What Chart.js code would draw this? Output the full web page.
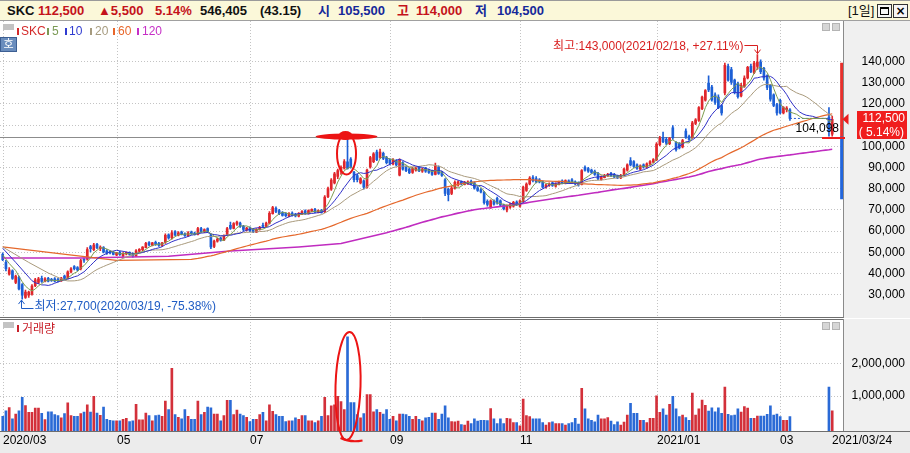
<!DOCTYPE html>
<html lang="ko"><head><meta charset="utf-8">
<script src="https://cdn.jsdelivr.net/npm/chart.js@4.4.1/dist/chart.umd.min.js"></script>
<style>
*{box-sizing:border-box}
html,body{margin:0;padding:0}
body{width:910px;height:453px;position:relative;overflow:hidden;background:#fff;font-family:"Liberation Sans","Noto Sans CJK KR",sans-serif;}
#hdr{position:absolute;left:0;top:0;width:910px;height:21px;background:#fbf8d9;border-top:1px solid #9a9a9a;border-bottom:1px solid #a0a0a0;}
#hdr span{position:absolute;top:1px;font-size:13px;line-height:17px;font-weight:bold;white-space:nowrap}
.r{color:#c4121b}.b{color:#15289a}.k{color:#111}
#pc{position:absolute;left:0;top:21px}
#vc{position:absolute;left:0;top:319px}
.leg{position:absolute;font-size:12px;line-height:14px;white-space:nowrap}
.mk{position:absolute;width:2px;height:7px}
.tab{position:absolute;width:11px;height:6px;background:#c3c3c3}
.ico{position:absolute;width:8px;height:8px;background:#d6d6d6;border:1px solid #b4b4b4}
</style></head>
<body>
<div id="hdr">
<span class="k" style="left:7px">SKC</span>
<span class="r" style="left:38px">112,500</span>
<span class="r" style="left:98px">▲5,500</span>
<span class="r" style="left:155px">5.14%</span>
<span class="k" style="left:200px">546,405</span>
<span class="k" style="left:260px">(43.15)</span>
<span class="b" style="left:318px">시</span>
<span class="b" style="left:338px">105,500</span>
<span class="r" style="left:397px">고</span>
<span class="r" style="left:416px">114,000</span>
<span class="b" style="left:475px">저</span>
<span class="b" style="left:497px">104,500</span>
<span class="k" style="left:848px;font-weight:normal">[1일]</span>
</div>
<div style="position:absolute;left:877px;top:4px;width:15px;height:14px;border:1px solid #333;background:#f6f6f6"><div style="position:absolute;left:2px;top:2px;width:9px;height:8px;border:1px solid #000;border-top-width:2px"></div></div>
<div style="position:absolute;left:893px;top:4px;width:15px;height:14px;border:1px solid #333;background:#f6f6f6;font:bold 12px/12px 'DejaVu Sans';text-align:center;color:#000">×</div>

<canvas id="pc" width="910" height="297"></canvas>
<canvas id="vc" width="910" height="134"></canvas>

<div class="tab" style="left:3px;top:24px"></div>
<div class="mk" style="left:17px;top:28px;background:#d42a2a"></div><div class="leg" style="left:21px;top:24px;color:#d42a2a">SKC</div>
<div class="mk" style="left:47px;top:28px;background:#7b9a55"></div><div class="leg" style="left:52px;top:24px;color:#7b9a55">5</div>
<div class="mk" style="left:65px;top:28px;background:#2f3bd0"></div><div class="leg" style="left:69px;top:24px;color:#2f3bd0">10</div>
<div class="mk" style="left:90px;top:28px;background:#a69b7f"></div><div class="leg" style="left:95px;top:24px;color:#a69b7f">20</div>
<div class="mk" style="left:113px;top:28px;background:#e8662a"></div><div class="leg" style="left:118px;top:24px;color:#e8662a">60</div>
<div class="mk" style="left:137px;top:28px;background:#c62fc6"></div><div class="leg" style="left:142px;top:24px;color:#c62fc6">120</div>
<div style="position:absolute;left:0;top:37px;width:17px;height:15px;background:#6a8dbd;border:1px solid #3d5f93;color:#fff;font-size:11px;line-height:13px;text-align:center">호</div>
<div class="ico" style="left:822px;top:23px"></div><div class="ico" style="left:832px;top:23px"></div>

<div class="tab" style="left:3px;top:322px"></div>
<div class="mk" style="left:17px;top:325px;background:#c8202a"></div><div class="leg" style="left:22px;top:322px;color:#c8202a">거래량</div>
<div class="ico" style="left:822px;top:322px"></div><div class="ico" style="left:832px;top:322px"></div>

<script>
// ---------------- DATA ----------------
const tradingDays = [
 ["2020/03","11 12 13 16 17 18 19 20 23 24 25 26 27 30 31"],
 ["2020/04","01 02 03 06 07 08 09 10 13 14 16 17 20 21 22 23 24 27 28 29"],
 ["2020/05","04 06 07 08 11 12 13 14 15 18 19 20 21 22 25 26 27 28 29"],
 ["2020/06","01 02 03 04 05 08 09 10 11 12 15 16 17 18 19 22 23 24 25 26 29 30"],
 ["2020/07","01 02 03 06 07 08 09 10 13 14 15 16 17 20 21 22 23 24 27 28 29 30 31"],
 ["2020/08","03 04 05 06 07 10 11 12 13 14 18 19 20 21 24 25 26 27 28 31"],
 ["2020/09","01 02 03 04 07 08 09 10 11 14 15 16 17 18 21 22 23 24 25 28 29"],
 ["2020/10","05 06 07 08 12 13 14 15 16 19 20 21 22 23 26 27 28 29 30"],
 ["2020/11","02 03 04 05 06 09 10 11 12 13 16 17 18 19 20 23 24 25 26 27 30"],
 ["2020/12","01 02 03 04 07 08 09 10 11 14 15 16 17 18 21 22 23 24 28 29 30"],
 ["2021/01","04 05 06 07 08 11 12 13 14 15 18 19 20 21 22 25 26 27 28 29"],
 ["2021/02","01 02 03 04 05 08 09 10 15 16 17 18 19 22 23 24 25 26"],
 ["2021/03","02 03 04 05 08 09 10 11 12 15 16 17 18 19 22 23 24"]
];
const tickMonths = ["2020/03","2020/05","2020/07","2020/09","2020/11","2021/01","2021/03"];
const tickLabels = ["2020/03","05","07","09","11","2021/01","03"];
const lastLabel = "2021/03/24";

// prices in thousand won (null = no candle shown)
const opensK = [
48.8,45.0,39.5,41.0,35.5,38.0,34.5,28.5,29.5,30.0,
34.0,35.5,37.5,36.0,37.5,37.0,37.3,37.0,36.3,38.5,
37.5,40.5,43.0,42.5,42.0,46.5,46.5,52.5,51.0,53.5,
51.5,52.0,50.5,50.0,49.8,48.5,49.8,48.0,49.0,49.8,
49.0,48.0,50.3,51.0,52.0,54.3,53.0,54.5,54.0,53.0,
54.5,58.0,56.5,59.5,57.8,59.3,58.5,57.5,59.3,58.8,
58.2,61.0,59.5,61.0,58.0,52.5,55.0,56.5,55.5,58.0,
62.5,61.0,63.0,63.5,62.0,60.3,61.3,60.5,59.3,60.5,
62.3,62.0,63.5,68.0,70.5,69.5,68.5,68.0,66.8,68.3,
67.8,66.8,67.8,69.3,68.0,69.0,70.0,68.7,69.6,68.8,
76.0,79.5,82.5,85.5,88.0,89.5,92.4,93.7,87.5,86.0,
82.5,83.5,80.5,90.0,92.5,97.0,94.5,96.5,94.5,93.5,
91.5,93.0,86.2,92.0,90.0,89.0,87.5,88.5,89.8,88.0,
89.5,88.5,88.0,86.5,90.0,87.5,84.0,79.5,77.5,80.0,
81.5,83.0,81.8,82.0,83.2,82.5,80.2,79.2,78.0,73.8,
71.0,74.0,75.2,74.0,72.0,69.8,71.0,71.5,73.5,71.5,
73.8,79.0,82.0,85.0,84.5,84.0,83.0,80.5,81.3,82.5,
81.0,81.8,83.5,82.3,83.5,84.0,83.0,82.5,81.8,89.8,
89.3,88.5,88.0,87.0,84.0,85.0,85.8,87.0,86.5,85.8,
84.8,86.0,88.5,93.0,92.5,91.0,89.0,91.0,90.0,91.5,
92.3,93.5,100.5,104.0,103.0,101.0,108.5,101.5,101.0,99.5,
107.0,104.5,104.0,110.5,112.0,117.5,121.5,129.6,127.7,124.0,
123.0,119.0,125.0,137.5,136.0,131.0,129.5,123.5,128.0,132.0,
137.5,134.5,137.5,139.5,136.5,133.0,128.5,124.0,119.5,121.5,
115.5,117.0,117.0,
null,null,null,null,null,null,null,null,null,null,null,
113.5,105.5];
const highsK = [
49.5,46.0,42.5,41.5,39.0,38.5,35.0,32.0,31.5,34.5,
37.5,38.0,38.5,37.8,38.0,37.5,37.8,37.6,38.0,39.0,
41.0,42.5,43.5,43.0,46.5,47.0,52.0,53.0,54.0,54.0,
52.8,52.5,51.0,50.5,50.2,49.8,50.2,49.6,50.0,50.0,
49.5,51.0,51.5,52.5,54.5,54.8,54.5,55.0,54.5,54.5,
58.5,58.5,60.0,60.0,59.5,59.8,59.0,59.5,59.8,59.3,
61.5,61.5,60.8,61.3,58.5,55.5,56.5,57.0,58.0,61.5,
64.0,63.8,64.5,64.0,62.5,61.5,61.8,61.0,61.0,62.0,
63.5,64.0,69.0,71.5,71.2,70.0,69.0,68.5,68.5,68.8,
68.2,68.5,69.5,69.8,69.8,70.3,70.5,69.8,70.0,76.5,
80.5,84.5,87.5,89.0,90.5,93.5,104.5,94.5,88.0,86.5,
85.0,84.0,89.0,95.0,96.8,98.0,98.5,97.0,95.0,94.0,
94.0,93.5,93.8,92.5,90.5,89.5,89.8,90.0,90.2,89.5,
89.8,89.0,88.5,91.8,90.5,88.0,84.5,80.0,81.0,83.5,
83.5,83.5,83.2,83.5,83.8,83.0,80.8,79.8,78.5,74.5,
74.5,74.5,75.8,74.5,72.5,72.2,73.0,73.8,74.0,74.5,
81.0,82.5,85.5,86.0,85.5,84.5,83.5,82.0,82.5,83.0,
82.5,83.3,84.0,84.0,84.0,84.5,83.5,83.0,88.8,90.5,
89.8,89.0,88.5,87.5,85.8,86.5,87.0,87.5,87.0,86.2,
86.5,89.5,91.5,94.5,93.0,91.5,91.0,91.5,92.0,93.0,
94.0,101.5,104.5,106.5,104.0,104.0,109.5,102.0,101.5,103.0,
108.0,105.0,111.5,112.8,118.5,123.5,126.5,133.0,128.5,125.0,
124.0,119.5,139.0,138.5,137.0,131.5,130.0,129.5,133.0,137.5,
138.5,139.8,143.0,140.5,137.0,133.5,129.0,124.5,120.0,122.0,
118.5,118.5,117.5,
null,null,null,null,null,null,null,null,null,null,null,
118.0,114.0];
const lowsK = [
45.8,41.0,39.0,37.0,35.0,32.0,27.7,28.0,28.5,29.5,
33.5,35.0,35.5,35.8,35.8,36.0,35.8,35.8,36.0,37.0,
37.2,40.0,41.5,41.0,41.5,45.0,46.0,50.0,50.5,51.5,
50.5,49.5,48.8,49.0,48.5,48.2,48.3,47.6,48.5,48.4,
47.5,47.8,50.0,50.5,51.8,52.8,52.8,53.0,52.5,52.5,
54.0,56.0,56.0,57.5,57.5,58.0,57.2,57.2,58.2,57.8,
58.0,59.0,59.0,59.0,51.5,52.0,54.5,55.0,55.3,57.8,
60.5,60.8,62.5,61.5,60.0,59.8,59.5,59.0,59.0,60.2,
61.5,61.8,63.2,67.8,68.5,67.5,66.8,66.5,66.5,66.8,
66.5,66.5,67.5,67.8,67.8,68.8,68.5,68.3,68.2,68.5,
75.5,79.0,82.0,84.5,86.5,89.0,89.0,89.5,83.0,83.0,
82.0,79.5,80.0,89.5,92.0,93.0,94.0,93.5,91.5,91.0,
91.0,90.5,85.8,88.5,87.8,86.8,87.0,88.0,87.8,87.5,
87.5,87.0,86.0,86.3,86.5,85.5,76.5,74.0,77.0,79.5,
81.0,81.5,81.5,81.8,81.5,79.5,78.5,77.8,72.5,71.5,
70.5,72.0,72.5,71.5,69.8,68.8,70.5,71.0,71.8,71.0,
73.5,78.5,81.5,83.0,82.5,82.5,80.0,80.0,80.8,80.8,
80.5,81.5,82.0,82.0,82.3,82.5,81.5,81.0,81.5,88.0,
87.5,87.0,86.0,84.0,83.8,84.8,85.5,85.5,85.0,84.5,
84.5,85.8,88.0,90.5,89.8,88.8,88.5,89.5,89.5,91.0,
92.0,93.0,100.0,101.5,100.5,100.5,103.0,97.5,98.5,99.0,
103.5,102.5,103.5,110.0,111.5,117.0,121.0,125.5,121.0,119.5,
117.5,114.5,124.0,130.5,129.0,124.5,122.5,123.0,127.5,131.5,
134.5,134.0,136.0,134.0,131.0,126.5,121.0,118.5,114.5,115.0,
115.0,116.0,112.0,
null,null,null,null,null,null,null,null,null,null,null,
104.5,104.5];
const closesK = [
46.3,42.0,41.5,37.5,38.5,32.5,29.5,31.0,31.0,33.8,
36.8,37.2,36.0,37.3,36.2,36.5,36.2,36.3,37.6,37.5,
40.5,42.0,42.0,41.5,45.8,46.0,51.0,51.5,53.2,52.0,
52.2,50.0,49.3,49.5,48.8,49.5,48.6,49.2,49.7,48.8,
48.0,50.5,51.2,52.2,54.0,53.2,54.2,53.5,53.0,54.2,
57.8,56.5,59.0,58.0,59.0,58.3,57.6,59.0,58.5,58.2,
61.0,59.5,60.5,59.5,52.3,55.0,56.0,55.5,57.5,61.0,
61.0,63.3,64.0,62.0,60.5,61.2,59.8,59.5,60.6,61.6,
62.0,63.5,68.2,70.8,69.0,68.0,67.2,67.0,68.0,67.2,
66.9,68.0,69.0,68.2,69.4,70.0,68.8,69.5,68.6,75.8,
79.8,83.8,86.8,88.3,89.8,92.5,89.3,90.0,84.0,84.0,
84.5,80.5,88.5,94.5,96.2,93.5,97.0,94.0,92.0,91.8,
93.5,91.0,93.2,89.0,88.3,87.3,89.3,89.5,88.2,89.0,
88.0,87.5,86.5,90.5,87.0,86.0,77.5,77.0,80.0,82.8,
83.0,82.0,82.8,83.0,82.0,80.0,79.0,78.3,73.2,72.3,
74.0,72.5,73.0,72.0,70.3,71.8,72.5,73.3,72.2,74.0,
80.5,82.0,84.8,83.5,83.0,83.0,80.5,81.5,82.0,81.3,
82.0,83.0,82.5,83.6,82.8,83.0,82.0,81.5,88.3,88.5,
88.0,87.5,86.5,84.5,85.3,86.0,86.6,85.8,85.3,84.8,
86.0,89.0,91.0,91.0,90.3,89.3,90.5,90.0,91.5,92.5,
93.5,100.8,103.5,102.0,101.2,103.5,103.8,98.2,99.0,102.5,
104.0,103.0,110.8,112.3,118.0,123.0,126.0,126.3,121.6,120.5,
118.0,115.5,138.0,131.0,130.0,125.5,123.2,128.5,132.0,137.0,
135.0,139.0,139.5,135.0,132.0,127.5,122.0,119.0,115.5,115.5,
118.0,117.8,112.9,
null,null,null,null,null,null,null,null,null,null,null,
107.0,112.5];
// volume in thousand shares
const volumesK = [
380,550,650,300,450,550,960,710,500,500,
630,630,470,280,520,520,430,400,330,460,
790,400,380,380,460,510,730,510,990,480,
410,660,290,260,240,240,240,290,320,220,
240,750,270,270,480,400,240,400,420,380,
850,590,1850,430,350,300,590,380,290,290,
850,430,500,660,640,450,450,240,400,870,
870,430,570,450,400,350,220,290,290,430,
500,240,730,530,430,380,380,220,240,240,
330,290,400,400,240,240,190,240,380,960,
400,700,730,990,830,590,2820,800,800,430,
330,460,1050,1050,520,590,500,450,590,290,
380,240,450,450,430,380,290,380,290,240,
330,350,480,480,290,450,700,330,220,210,
230,130,110,230,160,300,230,260,260,250,
620,300,160,300,160,320,300,190,190,90,
910,400,370,300,300,300,190,110,190,210,
160,160,160,110,160,190,320,140,1240,610,
300,260,210,420,300,300,340,230,130,210,
110,200,420,780,470,470,260,260,190,320,
320,1010,500,610,420,750,990,610,370,420,
340,260,1090,420,610,880,720,540,640,520,
640,470,1280,440,400,420,610,510,680,630,
320,320,390,390,390,440,700,420,450,370,
260,260,370,
null,null,null,null,null,null,null,null,null,null,null,
1280,546];
// moving-average values for the first days (history before the chart start)
const ma5EarlyIdx = [0, 2];            const ma5EarlyK = [48.5, 44.5];
const ma10EarlyIdx = [0, 4];           const ma10EarlyK = [51.7, 45.0];
const ma20EarlyIdx = [0, 8, 14];       const ma20EarlyK = [52.3, 45.0, 40.0];
const ma60EarlyIdx = [0, 18, 35, 58];  const ma60EarlyK = [52.3, 49.0, 46.0, 46.4];
const ma120EarlyIdx = [0, 24, 51, 70, 91, 104, 118];
const ma120EarlyK   = [47.1, 47.1, 47.9, 50.4, 52.3, 53.9, 59.0];
const refLevel = 104098;                    // drawn horizontal line
const priceLimitsK = [74.9, 104.5, 139.0];  // lower limit, split, upper limit
const priceTicks = [30000,40000,50000,60000,70000,80000,90000,100000,110000,120000,130000,140000];
const volTicks = [1000000, 2000000];
const changePct = "5.14%";

// ---------------- BUILD ----------------
const dates = [];
tradingDays.forEach(([m, d]) => d.split(" ").forEach(x => dates.push(m + "/" + x)));
const EXTRA = 3;
const N = dates.length + EXTRA;
const labels = dates.concat(new Array(EXTRA).fill(""));
const K = 1000;
const fill = (arr, mul) => { const o = arr.map(v => v == null ? null : v * mul); while (o.length < N) o.push(null); return o; };
const opens = fill(opensK, K), highs = fill(highsK, K), lows = fill(lowsK, K), closes = fill(closesK, K);
const volumes = fill(volumesK, K);
const RED = '#e0262b', BLUE = '#1c5fd6', VRED = '#d3303a', VBLUE = '#2a6ad6';
const isUp = i => closes[i] != null && closes[i] >= opens[i];
const lastIdx = dates.length - 1;

// moving average; during the halted days the last traded price counts (as the source does)
function movingAvg(n, earlyIdx, earlyVal) {
  const out = new Array(N).fill(null), hist = [];
  earlyIdx.forEach((k, j) => out[k] = earlyVal[j] * K);
  let last = null;
  for (let i = 0; i <= lastIdx; i++) {
    const v = closes[i] != null ? closes[i] : last;
    if (v == null) continue;
    last = v;
    hist.push(v);
    if (hist.length < n) continue;
    const w = hist.slice(-n);
    out[i] = w.reduce((s, q) => s + q, 0) / n;
  }
  return out;
}
const ma5 = movingAvg(5, ma5EarlyIdx, ma5EarlyK);
const ma10 = movingAvg(10, ma10EarlyIdx, ma10EarlyK);
const ma20 = movingAvg(20, ma20EarlyIdx, ma20EarlyK);
const ma60 = movingAvg(60, ma60EarlyIdx, ma60EarlyK);
const ma120 = movingAvg(120, ma120EarlyIdx, ma120EarlyK);

// dashed line across the missing days
let lastBefore = -1, firstAfter = -1;
for (let i = 1; i <= lastIdx; i++) {
  if (closes[i] == null && closes[i - 1] != null && lastBefore < 0) lastBefore = i - 1;
  if (closes[i] != null && closes[i - 1] == null && lastBefore >= 0 && firstAfter < 0) firstAfter = i;
}
const gapLine = new Array(N).fill(null);
if (lastBefore >= 0 && firstAfter >= 0) { gapLine[lastBefore] = closes[lastBefore]; gapLine[firstAfter] = closes[lastBefore]; }

const limitIdx = N - 1;
const limitUp = new Array(N).fill(null), limitDn = new Array(N).fill(null);
limitUp[limitIdx] = [priceLimitsK[1] * K, priceLimitsK[2] * K];
limitDn[limitIdx] = [priceLimitsK[0] * K, priceLimitsK[1] * K];

const monthIdx = tickMonths.map(m => dates.findIndex(d => d.startsWith(m)));
const fmt = v => Math.round(v).toLocaleString('en-US');
const FONT = '12px "Liberation Sans", "Noto Sans CJK KR", sans-serif';

// extremes
let hiIdx = 0, loIdx = 0, hiVolIdx = 0;
for (let i = 0; i < N; i++) {
  if (highs[i] != null && highs[i] > highs[hiIdx]) hiIdx = i;
  if (lows[i] != null && lows[i] < lows[loIdx]) loIdx = i;
  if (volumes[i] != null && volumes[i] > volumes[hiVolIdx]) hiVolIdx = i;
}
const lastClose = closes[lastIdx];
const pct = v => (v / lastClose * 100 - 100);
const hiText = `최고:${fmt(highs[hiIdx])}(${dates[hiIdx]}, +${pct(highs[hiIdx]).toFixed(2)}%)`;
const loText = `최저:${fmt(lows[loIdx])}(${dates[loIdx]}, ${pct(lows[loIdx]).toFixed(2)}%)`;

// ---------------- PRICE CHART ----------------
const ANN_RED = '#ec1414';
const pricePlugin = {
  id: 'priceDeco',
  beforeDraw(c) {
    const { ctx, chartArea: a, width, height } = c;
    ctx.save(); ctx.fillStyle = '#f0f0f0'; ctx.fillRect(a.right, 0, width - a.right, height); ctx.restore();
  },
  beforeDatasetsDraw(c) {
    const { ctx, chartArea: a, scales: { x, y } } = c;
    ctx.save();
    ctx.lineWidth = 1; ctx.strokeStyle = '#c4c4c4'; ctx.setLineDash([1, 2]);
    ctx.beginPath();
    priceTicks.forEach(v => { const py = Math.round(y.getPixelForValue(v)) + 0.5; ctx.moveTo(0, py); ctx.lineTo(a.right, py); });
    monthIdx.forEach(i => { const px = Math.round(x.getPixelForValue(i)) + 0.5; ctx.moveTo(px, 0); ctx.lineTo(px, a.bottom); });
    ctx.stroke(); ctx.setLineDash([]);
    const ry = Math.round(y.getPixelForValue(refLevel)) + 0.5;
    ctx.strokeStyle = '#8c8c8c'; ctx.beginPath(); ctx.moveTo(0, ry); ctx.lineTo(a.right, ry); ctx.stroke();
    ctx.restore();
  },
  afterDatasetsDraw(c) {
    const { ctx, chartArea: a, scales: { x, y }, width, height } = c;
    ctx.save();
    ctx.strokeStyle = '#8a8a8a'; ctx.lineWidth = 1;
    ctx.beginPath(); ctx.moveTo(Math.round(a.right) - 0.5, 0); ctx.lineTo(Math.round(a.right) - 0.5, height); ctx.stroke();
    ctx.strokeStyle = '#6e6e6e';
    ctx.beginPath(); ctx.moveTo(0, height - 0.5); ctx.lineTo(a.right, height - 0.5); ctx.stroke();
    ctx.font = FONT; ctx.fillStyle = '#000'; ctx.textAlign = 'right'; ctx.textBaseline = 'middle';
    priceTicks.forEach(v => ctx.fillText(fmt(v), 905, y.getPixelForValue(v) + 0.5));
    const ry = y.getPixelForValue(refLevel);
    ctx.fillText(fmt(refLevel), 839, ry - 8);
    ctx.strokeStyle = '#ee1c1c'; ctx.lineWidth = 2;
    ctx.beginPath(); ctx.moveTo(822, Math.round(ry) + 1); ctx.lineTo(845, Math.round(ry) + 1); ctx.stroke();
    const cy = y.getPixelForValue(lastClose);
    ctx.fillStyle = '#ec1c1c';
    ctx.beginPath(); ctx.moveTo(848.5, cy - 5.5); ctx.lineTo(848.5, cy + 5.5); ctx.lineTo(842.5, cy); ctx.closePath(); ctx.fill();
    ctx.fillStyle = '#f01e1e'; ctx.fillRect(857, Math.round(cy) - 8, 50, 28);
    ctx.fillStyle = '#fff'; ctx.textAlign = 'right';
    ctx.fillText(fmt(lastClose), 905, cy - 1);
    ctx.fillText('( ' + changePct + ')', 904, cy + 13);
    // max annotation
    const hx = x.getPixelForValue(hiIdx), hy = y.getPixelForValue(highs[hiIdx]);
    ctx.strokeStyle = '#d81e1e'; ctx.fillStyle = '#d81e1e'; ctx.lineWidth = 1;
    ctx.beginPath(); ctx.moveTo(hx - 13, 24.5); ctx.lineTo(Math.round(hx) + 0.5, 24.5); ctx.lineTo(Math.round(hx) + 0.5, hy - 1); ctx.stroke();
    ctx.beginPath(); ctx.moveTo(Math.round(hx) - 2.5, hy - 5); ctx.lineTo(Math.round(hx) + 0.5, hy - 1); ctx.lineTo(Math.round(hx) + 3.5, hy - 5); ctx.stroke();
    ctx.textAlign = 'right'; ctx.textBaseline = 'middle';
    ctx.fillText(hiText, hx - 14, 26);
    // min annotation
    const lx = x.getPixelForValue(loIdx), ly = y.getPixelForValue(lows[loIdx]);
    ctx.strokeStyle = '#1f5cc4'; ctx.fillStyle = '#1f5cc4';
    const lxr = Math.round(lx) - 0.5;
    ctx.beginPath(); ctx.moveTo(lxr, ly + 1); ctx.lineTo(lxr, 287.5); ctx.lineTo(lxr + 12, 287.5); ctx.stroke();
    ctx.beginPath(); ctx.moveTo(lxr - 3, ly + 5); ctx.lineTo(lxr, ly + 1); ctx.lineTo(lxr + 3, ly + 5); ctx.stroke();
    ctx.textAlign = 'left';
    ctx.fillText(loText, lxr + 13, 285.5);
    // hand-drawn highlight around the spike candle
    const sx = x.getPixelForValue(hiVolIdx);
    ctx.fillStyle = ANN_RED;
    ctx.beginPath(); ctx.ellipse(sx - 1, ry - 0.5, 31, 3, 0, 0, Math.PI * 2); ctx.fill();
    ctx.beginPath(); ctx.ellipse(sx - 2, ry - 1.5, 7, 4.5, 0, 0, Math.PI * 2); ctx.fill();
    const et = y.getPixelForValue(106000), eb = y.getPixelForValue(86500);
    ctx.strokeStyle = ANN_RED; ctx.lineWidth = 2;
    ctx.beginPath(); ctx.ellipse(sx - 1, (et + eb) / 2, 9.5, (eb - et) / 2, 0, 0, Math.PI * 2); ctx.stroke();
    ctx.restore();
  }
};

const xScale = { type: 'category', display: false, offset: true, grid: { display: false } };
const PAD_L = 1.07, PAD_R = 66.4;

new Chart(document.getElementById('pc'), {
  type: 'bar',
  data: {
    labels,
    datasets: [
      { type: 'line', data: ma5, borderColor: '#7d9c4f', borderWidth: 1, pointRadius: 0, spanGaps: true, order: 1 },
      { type: 'line', data: ma10, borderColor: '#3030c8', borderWidth: 1, pointRadius: 0, spanGaps: true, order: 2 },
      { type: 'line', data: ma20, borderColor: '#a99a7c', borderWidth: 1, pointRadius: 0, spanGaps: true, order: 3 },
      { type: 'line', data: ma60, borderColor: '#e5682c', borderWidth: 1.2, pointRadius: 0, spanGaps: true, order: 4 },
      { type: 'line', data: ma120, borderColor: '#c02cc0', borderWidth: 1.6, pointRadius: 0, spanGaps: true, order: 5 },
      { type: 'line', data: gapLine, borderColor: '#2a5fd0', borderWidth: 1, borderDash: [2, 2], pointRadius: 0, spanGaps: true, order: 6 },
      { data: closes.map((c, i) => c == null ? null : [opens[i], c]), grouped: false, barThickness: 2, minBarLength: 1,
        backgroundColor: ctx => isUp(ctx.dataIndex) ? RED : BLUE, borderWidth: 0, order: 7 },
      { data: lows.map((l, i) => l == null ? null : [l, highs[i]]), grouped: false, barThickness: 1,
        backgroundColor: ctx => isUp(ctx.dataIndex) ? RED : BLUE, borderWidth: 0, order: 8 },
      { data: limitUp, grouped: false, barThickness: 3, backgroundColor: '#e8302c', borderWidth: 0, order: 9 },
      { data: limitDn, grouped: false, barThickness: 3, backgroundColor: '#2266dd', borderWidth: 0, order: 9 }
    ]
  },
  options: {
    responsive: false, animation: false, devicePixelRatio: 1, events: [],
    layout: { padding: { left: PAD_L, right: PAD_R, top: 0, bottom: 0 } },
    scales: { x: xScale, y: { display: false, min: 18774, max: 158868 } },
    plugins: { legend: { display: false }, tooltip: { enabled: false } }
  },
  plugins: [pricePlugin]
});

// ---------------- VOLUME CHART ----------------
const VMIN = -70550, VMAX = 3365000;
const volPlugin = {
  id: 'volDeco',
  beforeDraw(c) {
    const { ctx, chartArea: a, width, height } = c;
    ctx.save();
    ctx.fillStyle = '#f0f0f0'; ctx.fillRect(a.right, 0, width - a.right, a.bottom);
    ctx.fillStyle = '#ececec'; ctx.fillRect(0, a.bottom, width, height - a.bottom);
    ctx.restore();
  },
  beforeDatasetsDraw(c) {
    const { ctx, chartArea: a, scales: { x, y } } = c;
    ctx.save(); ctx.lineWidth = 1; ctx.strokeStyle = '#c4c4c4'; ctx.setLineDash([1, 2]);
    ctx.beginPath();
    volTicks.forEach(v => { const py = Math.round(y.getPixelForValue(v)) + 0.5; ctx.moveTo(0, py); ctx.lineTo(a.right, py); });
    monthIdx.forEach(i => { const px = Math.round(x.getPixelForValue(i)) + 0.5; ctx.moveTo(px, 0); ctx.lineTo(px, a.bottom); });
    ctx.stroke(); ctx.restore();
  },
  afterDatasetsDraw(c) {
    const { ctx, chartArea: a, scales: { x, y }, width } = c;
    ctx.save();
    ctx.strokeStyle = '#6e6e6e'; ctx.lineWidth = 1;
    ctx.beginPath(); ctx.moveTo(0, 0.5); ctx.lineTo(a.right, 0.5); ctx.stroke();
    ctx.beginPath(); ctx.moveTo(0, Math.round(a.bottom) + 0.5); ctx.lineTo(width, Math.round(a.bottom) + 0.5); ctx.stroke();
    ctx.strokeStyle = '#8a8a8a';
    ctx.beginPath(); ctx.moveTo(Math.round(a.right) - 0.5, 0); ctx.lineTo(Math.round(a.right) - 0.5, a.bottom); ctx.stroke();
    ctx.font = FONT; ctx.fillStyle = '#000'; ctx.textBaseline = 'middle'; ctx.textAlign = 'right';
    volTicks.forEach(v => ctx.fillText(fmt(v), 905, y.getPixelForValue(v)));
    ctx.textAlign = 'left';
    const ty = a.bottom + 10;
    monthIdx.forEach((i, k) => ctx.fillText(tickLabels[k], Math.round(x.getPixelForValue(i)), ty));
    ctx.fillText(lastLabel, Math.round(x.getPixelForValue(lastIdx)), ty);
    const sx = x.getPixelForValue(hiVolIdx);
    ctx.strokeStyle = ANN_RED; ctx.lineWidth = 2;
    ctx.beginPath(); ctx.ellipse(sx + 0.5, 67, 12.5, 54, 0.03, 0, Math.PI * 2); ctx.stroke();
    ctx.beginPath(); ctx.moveTo(sx - 7, 119); ctx.quadraticCurveTo(sx + 3, 124, sx + 15, 121.5); ctx.stroke();
    ctx.restore();
  }
};

new Chart(document.getElementById('vc'), {
  type: 'bar',
  data: {
    labels,
    datasets: [
      { data: volumes, base: VMIN, barThickness: 2, borderWidth: 0,
        backgroundColor: ctx => isUp(ctx.dataIndex) ? VRED : VBLUE }
    ]
  },
  options: {
    responsive: false, animation: false, devicePixelRatio: 1, events: [],
    layout: { padding: { left: PAD_L, right: PAD_R, top: 0, bottom: 22 } },
    scales: { x: xScale, y: { display: false, min: VMIN, max: VMAX } },
    plugins: { legend: { display: false }, tooltip: { enabled: false } }
  },
  plugins: [volPlugin]
});
</script>
</body></html>
